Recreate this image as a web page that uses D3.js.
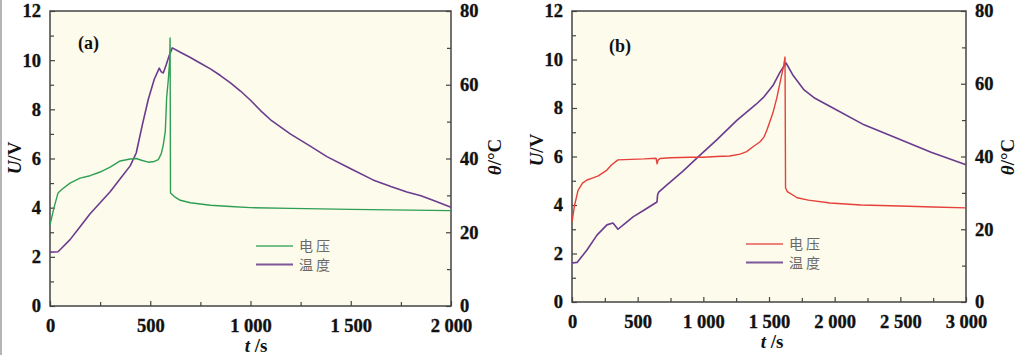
<!DOCTYPE html>
<html><head><meta charset="utf-8">
<script src="https://cdn.jsdelivr.net/npm/d3@7"></script>
<style>
body{margin:0;background:#fff;}
svg{display:block;}
.ttl{font-family:"Liberation Serif","Times New Roman",serif;font-weight:bold;font-size:19px;fill:#111;}
.leg{font-family:"Noto Sans CJK SC",sans-serif;font-size:14px;letter-spacing:3px;fill:#6a6a6a;}
</style></head>
<body>
<svg id="c" width="1024" height="355"></svg>
<script>
// ---------- Data ----------
// Panel (a)
const timeVoltA = [0,20,40,60,100,150,200,250,300,350,400,430,460,490,520,540,555,565,575,582,590,597,599,601,620,650,700,800,900,1000,1200,1500,1800,2000];
const voltA     = [3.3,4.0,4.6,4.75,5.0,5.2,5.3,5.45,5.65,5.9,5.98,6.0,5.92,5.85,5.88,5.95,6.2,6.55,7.1,8.5,9.2,10.0,10.9,4.6,4.45,4.3,4.2,4.1,4.05,4.0,3.97,3.93,3.9,3.88];
const timeTempA = [0,40,60,100,150,200,250,300,350,400,430,460,490,520,545,555,565,580,595,610,650,700,748,800,850,900,950,1000,1050,1100,1200,1300,1381,1500,1611,1700,1780,1850,1910,2000];
const tempA     = [14.6,14.7,15.8,18.0,21.5,25,28,31,34.5,38,41.5,49,56,61.5,64.5,63.5,63.2,65.5,68,70,68.8,67.4,65.9,64.3,62.5,60.5,58.3,55.8,53.0,50.5,46.6,43.3,40.5,37.2,34.2,32.4,30.9,29.9,28.7,26.8];
// Panel (b)
const timeVoltB = [0,20,46,80,114,150,200,266,300,350,450,550,640,648,655,670,750,900,1000,1100,1200,1280,1330,1378,1430,1462,1485,1530,1561,1590,1610,1622,1626,1640,1714,1800,1965,2200,2498,2750,3000];
const voltB     = [3.3,4.0,4.6,4.9,5.03,5.1,5.2,5.44,5.65,5.86,5.88,5.9,5.93,5.7,5.85,5.92,5.95,5.97,5.97,6.0,6.02,6.1,6.2,6.4,6.6,6.8,7.1,7.8,8.45,9.2,9.7,10.1,4.7,4.55,4.3,4.2,4.08,4.0,3.96,3.92,3.88];
const timeTempB = [0,40,114,190,266,312,350,400,465,550,647,652,660,723,845,975,1100,1257,1400,1462,1530,1584,1630,1680,1767,1850,1973,2224,2475,2734,3000];
const tempB     = [10.7,10.9,14.3,18.4,21.2,21.7,20,21.5,23.4,25.3,27.5,29.5,30.2,32.2,36.0,40.4,44.5,50,54.3,56.4,59.5,63.2,65.7,62.5,58.3,56,53.6,48.7,45,41.2,37.7];

// Axes / ticks
const uTicks = [0,2,4,6,8,10,12];
const uMinor = [1,3,5,7,9,11];
const tempTicks = [0,20,40,60,80];
const tempMinor = [10,30,50,70];
const xTicksA = [0,500,1000,1500,2000];
const xTickLabelsA = ["0","500","1 000","1 500","2 000"];
const xMinorA = [250,750,1250,1750];
const xTicksB = [0,500,1000,1500,2000,2500,3000];
const xTickLabelsB = ["0","500","1 000","1 500","2 000","2 500","3 000"];
const xMinorB = [250,750,1250,1750,2250,2750];
const legendLabels = ["电压","温度"];
const panelLabels = ["(a)","(b)"];

// ---------- Drawing ----------
const svg = d3.select("#c");
const SERIF = '"Liberation Serif","Times New Roman",serif';

svg.append("rect").attr("x",0).attr("y",0).attr("width",2).attr("height",355).attr("fill","#b5b5b5");

function panel(o){
  const g = svg.append("g");
  const x = d3.scaleLinear().domain([0,o.xMax]).range([o.x0,o.x1]);
  const yU = d3.scaleLinear().domain([0,12]).range([o.y1,o.y0]);
  const yT = d3.scaleLinear().domain([0,80]).range([o.y1,o.y0]);

  g.append("rect").attr("x",o.x0).attr("y",o.y0).attr("width",o.x1-o.x0).attr("height",o.y1-o.y0)
    .attr("fill","#fdfbeb");

  const styleAxis = sel => {
    sel.attr("font-family",null).attr("font-size",null);
    sel.select(".domain").remove();
    sel.selectAll("line").attr("stroke","#444").attr("stroke-width",1.2);
    sel.selectAll("text")
      .style("font-family",SERIF).style("font-weight","700").style("font-size","18.5px")
      .style("fill","#111").style("stroke","#111").style("stroke-width","0.35px");
  };

  g.append("g").attr("transform",`translate(0,${o.y1})`)
    .call(d3.axisBottom(x).tickValues(o.xTicks).tickFormat((d,i)=>o.xLabels[i]).tickSizeInner(-5).tickSizeOuter(0).tickPadding(13))
    .call(styleAxis);
  g.append("g").attr("transform",`translate(0,${o.y1})`)
    .call(d3.axisBottom(x).tickValues(o.xMinor).tickFormat("").tickSizeInner(-4).tickSizeOuter(0))
    .call(styleAxis);
  g.append("g").attr("transform",`translate(${o.x0},0)`)
    .call(d3.axisLeft(yU).tickValues(uTicks).tickFormat(d3.format("d")).tickSizeInner(-5).tickSizeOuter(0).tickPadding(9))
    .call(styleAxis);
  g.append("g").attr("transform",`translate(${o.x0},0)`)
    .call(d3.axisLeft(yU).tickValues(uMinor).tickFormat("").tickSizeInner(-4).tickSizeOuter(0))
    .call(styleAxis);
  g.append("g").attr("transform",`translate(${o.x1},0)`)
    .call(d3.axisRight(yT).tickValues(tempTicks).tickFormat(d3.format("d")).tickSizeInner(-5).tickSizeOuter(0).tickPadding(9))
    .call(styleAxis);
  g.append("g").attr("transform",`translate(${o.x1},0)`)
    .call(d3.axisRight(yT).tickValues(tempMinor).tickFormat("").tickSizeInner(-4).tickSizeOuter(0))
    .call(styleAxis);

  g.append("rect").attr("x",o.x0).attr("y",o.y0).attr("width",o.x1-o.x0).attr("height",o.y1-o.y0)
    .attr("fill","none").attr("stroke","#444").attr("stroke-width",1.5);

  const lineU = d3.line().x(d=>x(d[0])).y(d=>yU(d[1]));
  const lineT = d3.line().x(d=>x(d[0])).y(d=>yT(d[1]));
  g.append("path").datum(d3.zip(o.tT,o.vT)).attr("d",lineT)
    .attr("fill","none").attr("stroke",o.tempColor).attr("stroke-width",1.6).attr("stroke-linejoin","round");
  g.append("path").datum(d3.zip(o.tU,o.vU)).attr("d",lineU)
    .attr("fill","none").attr("stroke",o.voltColor).attr("stroke-width",1.4).attr("stroke-linejoin","round");

  g.append("text").attr("class","ttl").attr("x",o.labX).attr("y",o.labY).style("font-size","18px").text(o.label);

  const cols = [o.voltColor,o.tempColor];
  legendLabels.forEach((lab,i)=>{
    const yy = o.legY + i*18.5;
    g.append("line").attr("x1",o.legX).attr("x2",o.legX+37).attr("y1",yy).attr("y2",yy)
      .attr("stroke",cols[i]).attr("stroke-width",i? 2:1.4).attr("opacity",0.85);
    g.append("text").attr("class","leg").attr("x",o.legX+43).attr("y",yy).attr("dy","0.36em").text(lab);
  });

  const ut = g.append("text").attr("class","ttl").attr("transform",`translate(${o.uLabX},${o.uLabY}) rotate(-90)`)
    .attr("text-anchor","middle");
  ut.append("tspan").style("font-style","italic").text("U");
  ut.append("tspan").text("/V");
  const tt = g.append("text").attr("class","ttl").attr("transform",`translate(${o.tLabX},${o.tLabY}) rotate(-90)`)
    .attr("text-anchor","middle");
  tt.append("tspan").style("font-style","italic").text("θ");
  tt.append("tspan").text("/°C");
  const xt = g.append("text").attr("class","ttl").attr("x",o.xLabX).attr("y",o.xLabY).attr("text-anchor","middle");
  xt.append("tspan").style("font-style","italic").text("t");
  xt.append("tspan").text(" /s");
}

panel({x0:50,x1:451,y0:11,y1:306,xMax:2000,xTicks:xTicksA,xLabels:xTickLabelsA,xMinor:xMinorA,
  tU:timeVoltA,vU:voltA,tT:timeTempA,vT:tempA,voltColor:"#2f9e55",tempColor:"#6a3b8e",
  label:panelLabels[0],labX:78,labY:49,legX:256,legY:246,
  uLabX:21,uLabY:158,tLabX:501,tLabY:157,xLabX:256,xLabY:352});
panel({x0:572,x1:966,y0:11,y1:302,xMax:3000,xTicks:xTicksB,xLabels:xTickLabelsB,xMinor:xMinorB,
  tU:timeVoltB,vU:voltB,tT:timeTempB,vT:tempB,voltColor:"#e5403c",tempColor:"#6a3b8e",
  label:panelLabels[1],labX:609,labY:52,legX:746,legY:244,
  uLabX:543,uLabY:150,tLabX:1014,tLabY:157,xLabX:772,xLabY:348});
</script>
</body></html>
